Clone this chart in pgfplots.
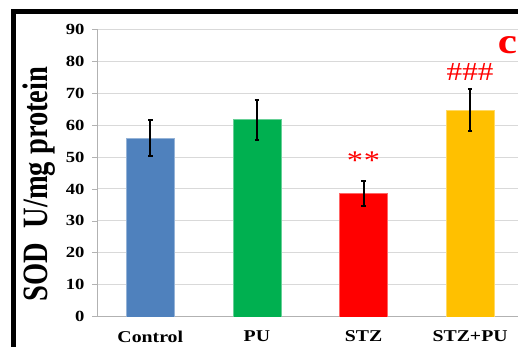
\documentclass[border=0pt]{standalone}
\usepackage{graphicx}
\usepackage{fontspec}
\setmainfont{Liberation Serif}[FakeStretch=1.2]
\newfontfamily\labelfont{Liberation Serif}
\usepackage{pgfplots}
\pgfplotsset{compat=1.18}
\definecolor{cCtrl}{RGB}{79,129,189}
\definecolor{cPU}{RGB}{0,176,80}
\definecolor{cSTZ}{RGB}{255,0,0}
\definecolor{cSP}{RGB}{255,192,0}
\begin{document}
\begin{tikzpicture}[x=1pt,y=1pt]
\path[use as bounding box] (0,0) rectangle (518,346);
\clip (0,0) rectangle (518,346);
\fill[white] (0,0) rectangle (518,346);
\begin{axis}[
  at={(97pt,29.3pt)}, anchor=south west,
  scale only axis, width=426.4pt, height=287.4pt,
  ybar, bar width=48pt, bar shift=0pt,
  xmin=-0.5, xmax=3.5, ymin=0, ymax=90,
  ytick={0,10,...,90},
  xtick={0,1,2,3},
  xticklabels={Control,PU,STZ,STZ+PU},
  axis lines*=left,
  axis line style={gray!60, line width=0.8pt},
  ymajorgrids, major grid style={gray!30, line width=1pt},
  tick style={gray!60, line width=0.8pt},
  major tick length=5pt,
  tick align=outside,
  x tick style={draw=none},
  /pgf/number format/assume math mode=true,
  yticklabel style={font=\bfseries\fontsize{15.5}{15.5}\selectfont, xshift=-4pt},
  xticklabel style={font=\bfseries\fontsize{16.5}{16.5}\selectfont, yshift=-5.5pt},
  ylabel={\scalebox{1}[1.25]{\labelfont\bfseries\fontsize{28.5}{28.5}\selectfont SOD~~U/mg protein}},
  ylabel style={at={(axis description cs:-0.136,0.462)}, anchor=center},
  error bars/y dir=both, error bars/y explicit,
  error bars/error bar style={black, line width=2pt},
  error bars/error mark options={black, line width=2pt, mark size=2.3pt, rotate=90},
]
\addplot[fill=cCtrl, draw=cCtrl!60!white] coordinates {(0,55.9) +- (0,5.6)};
\addplot[fill=cPU, draw=cPU!60!white] coordinates {(1,61.7) +- (0,6.3)};
\addplot[fill=cSTZ, draw=cSTZ!60!white] coordinates {(2,38.7) +- (0,3.9)};
\addplot[fill=cSP, draw=cSP!60!white] coordinates {(3,64.8) +- (0,6.5)};
\node[text=red, font=\fontsize{27}{27}\selectfont] at (axis cs:2,48.8) {*\kern1pt*};
\node[text=red, font=\fontsize{26}{26}\selectfont] at (axis cs:3,76.7) {\#\#\#};
\node[text=red, font=\bfseries\fontsize{36}{36}\selectfont] at (axis cs:3.35,85.0) {c};
\end{axis}
\draw[line width=4.7pt] (13.5,-20) -- (13.5,334.3) -- (560,334.3);
\end{tikzpicture}
\end{document}
